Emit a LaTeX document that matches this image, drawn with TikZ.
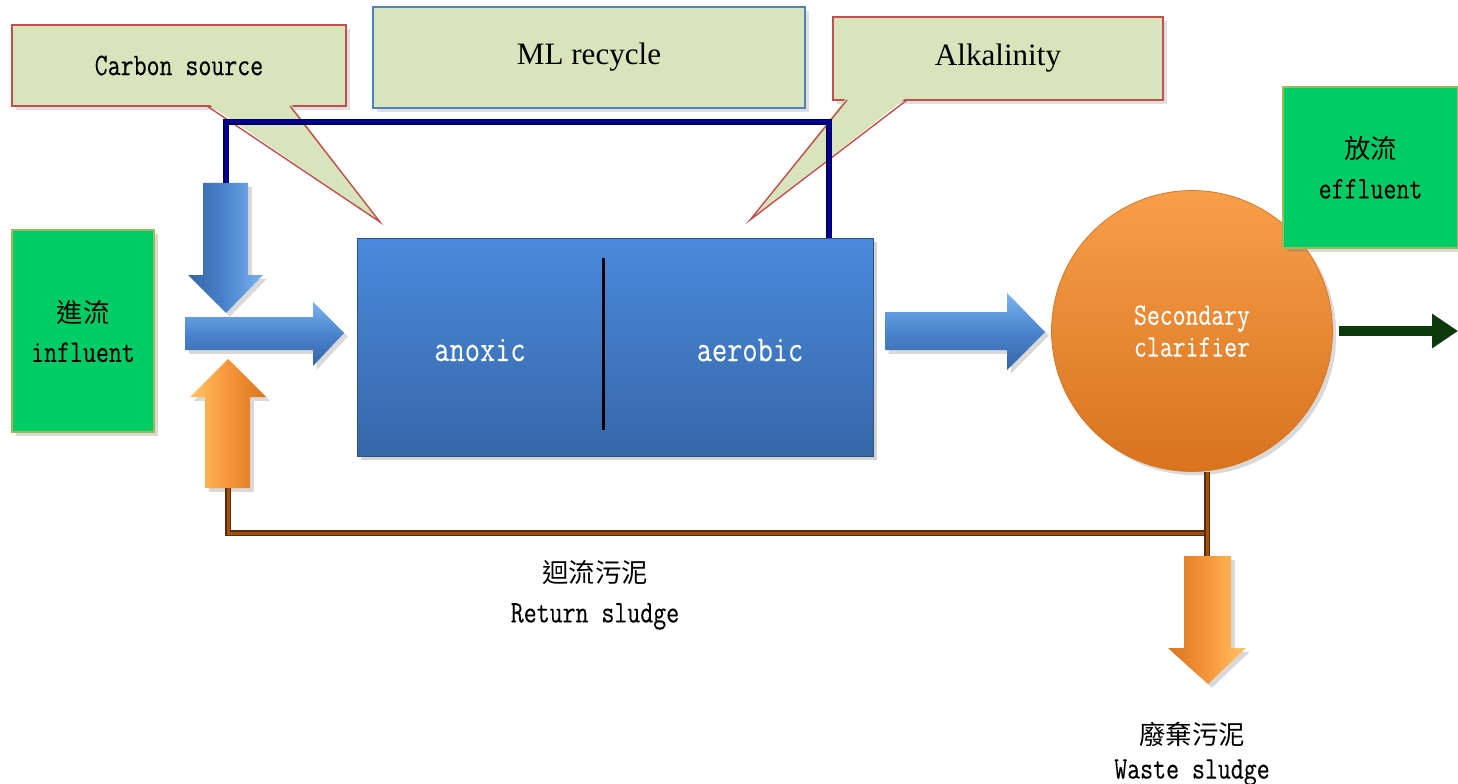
\documentclass[tikz,border=0pt]{standalone}
\usepackage{fontspec}
\newfontfamily\cjk{Noto Sans CJK TC}
\newfontfamily\tnr{Liberation Serif}
\newfontfamily\mono[FakeStretch=0.8, FakeBold=0.2]{Latin Modern Mono}
\usetikzlibrary{positioning, calc, shadows, arrows.meta}

\definecolor{callfill}{HTML}{D8E4BC}
\definecolor{callline}{HTML}{C0504D}
\definecolor{mlline}{HTML}{4F81BD}
\definecolor{flowgreen}{HTML}{00CC66}
\definecolor{flowline}{HTML}{9BBB59}
\definecolor{tanktop}{HTML}{4A89DC}
\definecolor{tankbot}{HTML}{3667A8}
\definecolor{bluedark}{HTML}{3465A8}
\definecolor{bluemid}{HTML}{4A84CC}
\definecolor{bluelight}{HTML}{7AB4F0}
\definecolor{orangemid}{HTML}{F7963A}
\definecolor{orangelight}{HTML}{FFC566}
\definecolor{orangedark}{HTML}{D8731E}
\definecolor{pipenavy}{HTML}{00008B}
\definecolor{pipebrown}{HTML}{A0500F}
\definecolor{outgreen}{HTML}{0B3A0B}

\newcommand{\zh}[1]{{\cjk\fontsize{15}{22.7}\selectfont #1}}

\tikzstyle{lbl} = [font=\mono\fontsize{17.9}{22.7}\selectfont, align=center]
\tikzstyle{serif} = [font=\tnr\fontsize{17.7}{20}\selectfont]
\tikzstyle{callbox} = [rectangle, fill=callfill, draw=callline, line width=0.8pt, drop shadow={opacity=0.25}]
\tikzstyle{flowbox} = [rectangle, lbl, fill=flowgreen, draw=flowline, line width=0.8pt, drop shadow={opacity=0.3}]
\tikzstyle{zone} = [font=\mono\fontsize{21}{24}\selectfont, text=white]
\tikzstyle{mlpipe} = [draw=pipenavy!60!black, double=pipenavy!85!blue, double distance=0.06cm, line width=0.03cm]
\tikzstyle{rspipe} = [draw=pipebrown!55!black, double=pipebrown, double distance=0.06cm, line width=0.03cm]
\tikzstyle{hblue} = [top color=bluelight, bottom color=bluedark, middle color=bluemid, drop shadow={opacity=0.3}]
\tikzstyle{vblue} = [left color=bluedark, right color=bluelight, middle color=bluemid, drop shadow={opacity=0.3}]
\tikzstyle{oup} = [left color=orangelight, right color=orangedark, middle color=orangemid, drop shadow={opacity=0.3}]
\tikzstyle{odown} = [left color=orangedark, right color=orangelight, middle color=orangemid, drop shadow={opacity=0.3}]

\begin{document}
\begin{tikzpicture}[x=0.02cm, y=-0.02cm]
\useasboundingbox (0,0) rectangle (1458,784);

\node (carbon) [callbox, lbl, minimum width=6.68cm, minimum height=1.62cm] at (179,65.5) {Carbon source};
\fill[callfill] (207,103) -- (380,222) -- (290,103) -- cycle;
\draw[callline, line width=0.8pt] (207,106) -- (380,222) -- (290,106);

\node (ml) [callbox, serif, draw=mlline, minimum width=8.64cm, minimum height=2.02cm] at (589,57.5) {ML recycle};

\node (alk) [callbox, serif, minimum width=6.6cm, minimum height=1.66cm] at (998,58.5) {Alkalinity};
\fill[callfill] (847,97) -- (750,220) -- (907,97) -- cycle;
\draw[callline, line width=0.8pt] (847,100) -- (750,220) -- (907,100);

\node (infl) [flowbox, minimum width=2.84cm, minimum height=4.04cm] at (83,331) {\zh{進流}\\influent};

\node (tank) [rectangle, top color=tanktop, bottom color=tankbot, draw=tankbot!80!black, line width=0.4pt, drop shadow={opacity=0.35}, minimum width=10.32cm, minimum height=4.36cm] at (615,347) {};
\draw[black, line width=0.06cm] (603,258) -- (603,430);
\node (anoxic) [zone] at (480,350) {anoxic};
\node (aerobic) [zone] at (750,350) {aerobic};

\node (clar) [circle, top color=orangemid!92!white, bottom color=orangedark, draw=orangedark, line width=0.4pt, drop shadow={opacity=0.3}, minimum size=5.62cm, lbl, text=white, font=\mono\fontsize{17.8}{18.1}\selectfont] at (1192,331) {Secondary\\clarifier};

\node (effl) [flowbox, minimum width=3.5cm, minimum height=3.22cm] at (1370.5,167.5) {\zh{放流}\\effluent};

\shade[vblue] (203,183) -- (248,183) -- (248,275) -- (263,275) -- (226,313) -- (188,275) -- (203,275) -- cycle;
\shade[hblue] (185,317) -- (313,317) -- (313,302) -- (344,333) -- (313,366) -- (313,350) -- (185,350) -- cycle;
\shade[oup] (205,488) -- (250,488) -- (250,397) -- (266,397) -- (228,359) -- (190,397) -- (205,397) -- cycle;
\shade[hblue] (885,312) -- (1007,312) -- (1007,293) -- (1045,332) -- (1007,370) -- (1007,350) -- (885,350) -- cycle;
\shade[odown] (1184,556) -- (1231,556) -- (1231,648) -- (1246,648) -- (1208,684) -- (1168,648) -- (1184,648) -- cycle;

\coordinate (cdtop) at (226,183);
\coordinate (mltop) at (829,122);
\coordinate (rin) at (228,488);
\coordinate (junc) at (1207,533);
\coordinate (wtop) at (1207,556);
\coordinate (wtip) at (1208,684);
\coordinate (out) at (1458,331);

\draw[mlpipe] (cdtop) |- (mltop) -- (mltop |- tank.north);
\draw[rspipe] (junc) -| (rin);
\draw[rspipe] (clar.south -| wtop) -- (wtop);
\draw[outgreen, line width=0.2cm, -{Triangle[length=0.52cm, width=0.66cm]}] ([xshift=0.12cm]clar.east) -- (out);

\node (retlbl) [lbl] at (595,595) {\zh{迴流污泥}\\Return sludge};
\node (wastelbl) [lbl, font=\mono\fontsize{17.9}{19.3}\selectfont] at (1192,754) {\zh{廢棄污泥}\\Waste sludge};
\end{tikzpicture}
\end{document}
